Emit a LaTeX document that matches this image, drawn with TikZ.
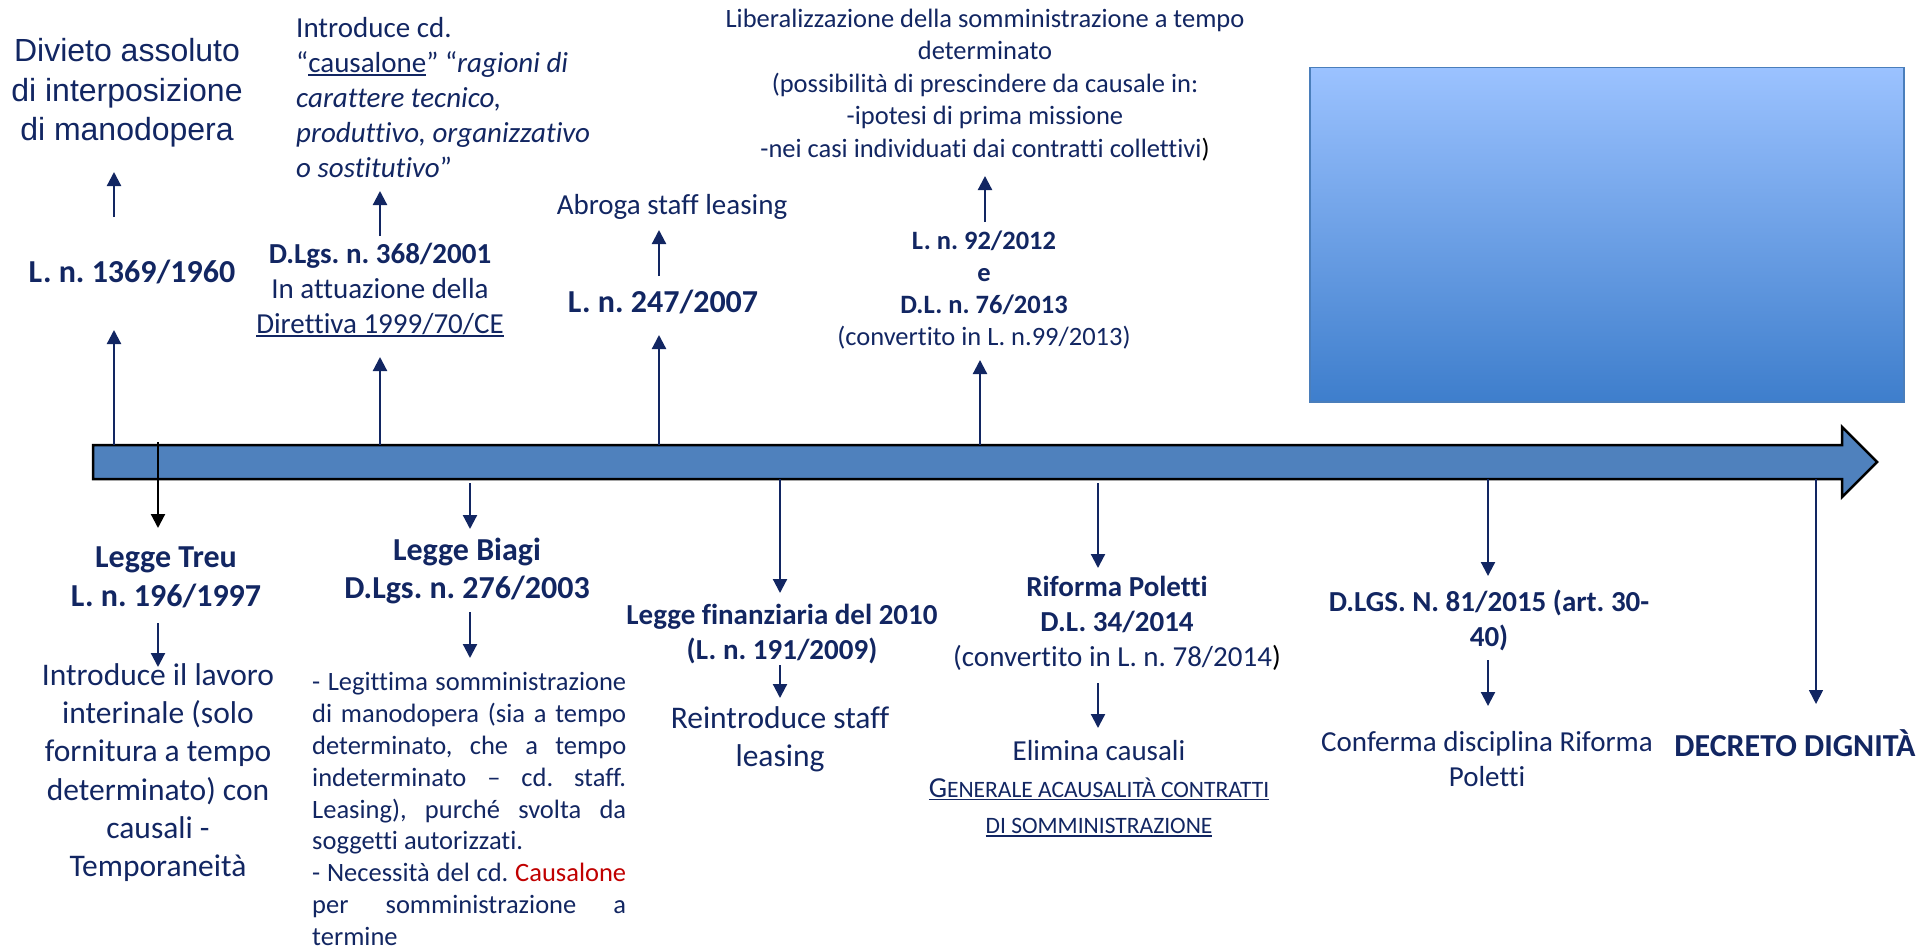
\documentclass[tikz,border=0pt]{standalone}
\usepackage{fontspec}
\setmainfont{Carlito}[Ligatures={TeX,NoCommon}]
\newfontfamily\arialfam{Liberation Sans}
\usetikzlibrary{arrows.meta}
\definecolor{navy}{RGB}{18,38,98}
\definecolor{barblue}{RGB}{79,129,189}
\definecolor{boxtop}{RGB}{155,194,255}
\definecolor{boxbot}{RGB}{62,126,204}
\definecolor{boxedge}{RGB}{74,126,187}
\definecolor{redc}{RGB}{192,0,0}
\newsavebox\ulbox
\newcommand\myul[1]{\sbox\ulbox{#1}\rlap{\color{navy}\rule[-3pt]{\wd\ulbox}{1.5pt}}\usebox\ulbox}
\newcommand\fsc[1]{{\fontsize{23.5}{30}\selectfont #1}}
\frenchspacing
\tikzset{
  lbl/.style={inner sep=0pt, text=navy, align=center},
  arr/.style={draw=navy, line width=2.2pt, -{Triangle[width=14pt,length=14pt]}},
  blk/.style={draw=black, line width=2.2pt, -{Triangle[width=14pt,length=14pt]}},
  barstyle/.style={draw=black, line width=2.5pt, fill=barblue, line join=miter},
}
\begin{document}
\begin{tikzpicture}[x=1pt,y=-1pt]
\useasboundingbox (0,0) rectangle (1921,950);

% gradient box
\node[draw=boxedge, line width=1.5pt, top color=boxtop, bottom color=boxbot,
      minimum width=594pt, minimum height=334pt, inner sep=0pt, anchor=north west] (box) at (1309,67) {};

% timeline arrow
\draw[barstyle] (93,445) -- (1842,445) -- (1842,427) -- (1877,462) -- (1842,497) -- (1842,479) -- (93,479) -- cycle;
\coordinate (barN) at (0,445);
\coordinate (barS) at (0,479);

% event x positions
\coordinate (e1) at (114,0);
\coordinate (e2) at (380,0);
\coordinate (e3) at (659,0);
\coordinate (e4a) at (980,0);
\coordinate (e4b) at (985,0);
\coordinate (e5) at (158,0);
\coordinate (e6) at (470,0);
\coordinate (e7) at (780,0);
\coordinate (e8) at (1098,0);
\coordinate (e9) at (1488,0);
\coordinate (e10) at (1816,0);

% upper texts
\node[lbl, font=\arialfam\fontsize{32}{39.5}\selectfont] (divieto) at (127,93)
  {Divieto assoluto\\di interposizione\\di manodopera};
\node[lbl, font=\bfseries\fontsize{32}{38}\selectfont] (l1960) at (132,272) {L. n. 1369/1960};
\node[lbl, align=left, anchor=west, font=\fontsize{29}{35}\selectfont] (intro) at (296,98)
  {Introduce cd.\\
   “\myul{causalone}” “\textit{ragioni di}\\
   \textit{carattere tecnico,}\\
   \textit{produttivo, organizzativo}\\
   \textit{o sostitutivo}”};
\node[lbl, font=\fontsize{29}{35}\selectfont] (d368) at (380,290)
  {\textbf{D.Lgs. n. 368/2001}\\In attuazione della\\\myul{Direttiva 1999/70/CE}};
\node[lbl, font=\fontsize{29}{35}\selectfont] (abroga) at (672,207) {Abroga staff leasing};
\node[lbl, font=\bfseries\fontsize{32}{38}\selectfont] (l2007) at (663,302) {L. n. 247/2007};
\node[lbl, font=\fontsize{26.5}{32.5}\selectfont] (lib) at (985,85)
  {Liberalizzazione della somministrazione a tempo\\determinato\\(possibilità di prescindere da causale in:\\-ipotesi di prima missione\\-nei casi individuati dai contratti collettivi\textcolor{black}{)}};
\node[lbl, font=\fontsize{26.5}{32}\selectfont] (l92) at (984,290.5)
  {\textbf{L. n. 92/2012}\\\textbf{e}\\\textbf{D.L. n. 76/2013}\\(convertito in L. n.99/2013)};

% lower texts
\node[lbl, font=\bfseries\fontsize{32}{39}\selectfont] (treu) at (166,577.5) {Legge Treu\\L. n. 196/1997};
\node[lbl, font=\fontsize{31.5}{38.3}\selectfont] (itreu) at (158,772.5)
  {Introduce il lavoro\\interinale (solo\\fornitura a tempo\\determinato) con\\causali -\\Temporaneità};
\node[lbl, font=\bfseries\fontsize{32}{38}\selectfont] (biagi) at (467,571) {Legge Biagi\\D.Lgs. n. 276/2003};
\node[lbl, align=left, anchor=west, font=\fontsize{26.5}{31.8}\selectfont] (bpar) at (312,809)
  {\makebox[314pt][s]{- Legittima somministrazione}\\
   \makebox[314pt][s]{di manodopera (sia a tempo}\\
   \makebox[314pt][s]{determinato, che a tempo}\\
   \makebox[314pt][s]{indeterminato – cd. staff.}\\
   \makebox[314pt][s]{Leasing), purché svolta da}\\
   soggetti autorizzati.\\
   \makebox[314pt][s]{- Necessità del cd. \textcolor{redc}{Causalone}}\\
   \makebox[314pt][s]{per somministrazione a}\\
   termine};
\node[lbl, font=\bfseries\fontsize{29}{35}\selectfont] (fin) at (782,634.5) {Legge finanziaria del 2010\\(L. n. 191/2009)};
\node[lbl, font=\fontsize{31.5}{38}\selectfont] (reintro) at (780,739) {Reintroduce staff\\leasing};
\node[lbl, font=\fontsize{29}{35}\selectfont] (pol) at (1117,623)
  {\textbf{Riforma Poletti}\\\textbf{D.L. 34/2014}\\(convertito in L. n. 78/2014\textcolor{black}{)}};
\node[lbl, font=\fontsize{29}{36.5}\selectfont] (elim) at (1099,788.5)
  {Elimina causali\\\myul{G\fsc{ENERALE ACAUSALITÀ CONTRATTI}}\\\myul{\fsc{DI SOMMINISTRAZIONE}}};
\node[lbl, font=\bfseries\fontsize{29}{35}\selectfont] (dlgs) at (1489,620.5) {D.LGS. N. 81/2015 (art. 30-\\40)};
\node[lbl, font=\fontsize{29}{35}\selectfont] (conf) at (1487,759.5) {Conferma disciplina Riforma\\Poletti};
\node[lbl, font=\bfseries\fontsize{32}{38}\selectfont] (decr) at (1795,743) {DECRETO DIGNITÀ};

% upper connectors
\draw[arr, shorten >=58pt] (e1 |- barN) -- (e1 |- l1960.center);
\draw[arr, shorten <=55pt, shorten >=79pt] (e1 |- l1960.center) -- (e1 |- divieto.center);
\draw[arr, shorten >=67pt] (e2 |- barN) -- (e2 |- d368.center);
\draw[arr, shorten <=54pt, shorten >=93pt] (e2 |- d368.center) -- (e2 |- intro.center);
\draw[arr, shorten >=33pt] (e3 |- barN) -- (e3 |- l2007.center);
\draw[arr, shorten <=26pt, shorten >=23pt] (e3 |- l2007.center) -- (e3 |- abroga.center);
\draw[arr, shorten >=69.5pt] (e4a |- barN) -- (e4a |- l92.center);
\draw[arr, shorten <=68.5pt, shorten >=91pt] (e4b |- l92.center) -- (e4b |- lib.center);

% lower connectors
\draw[blk, shorten <=-3pt, shorten >=49.5pt] (e5 |- barN) -- (e5 |- treu.center);
\draw[arr, shorten <=45.5pt, shorten >=105.5pt] (e5 |- treu.center) -- (e5 |- itreu.center);
\draw[arr, shorten <=4pt, shorten >=42pt] (e6 |- barS) -- (e6 |- biagi.center);
\draw[arr, shorten <=41pt, shorten >=151pt] (e6 |- biagi.center) -- (e6 |- bpar.center);
\draw[arr, shorten >=41.5pt] (e7 |- barS) -- (e7 |- fin.center);
\draw[arr, shorten <=30.5pt, shorten >=41pt] (e7 |- fin.center) -- (e7 |- reintro.center);
\draw[arr, shorten <=4pt, shorten >=55pt] (e8 |- barS) -- (e8 |- pol.center);
\draw[arr, shorten <=60pt, shorten >=60.5pt] (e8 |- pol.center) -- (e8 |- elim.center);
\draw[arr, shorten >=44.5pt] (e9 |- barS) -- (e9 |- dlgs.center);
\draw[arr, shorten <=39.5pt, shorten >=53.5pt] (e9 |- dlgs.center) -- (e9 |- conf.center);
\draw[arr, line width=1.6pt, shorten >=39pt] (e10 |- barS) -- (e10 |- decr.center);
\end{tikzpicture}
\end{document}
